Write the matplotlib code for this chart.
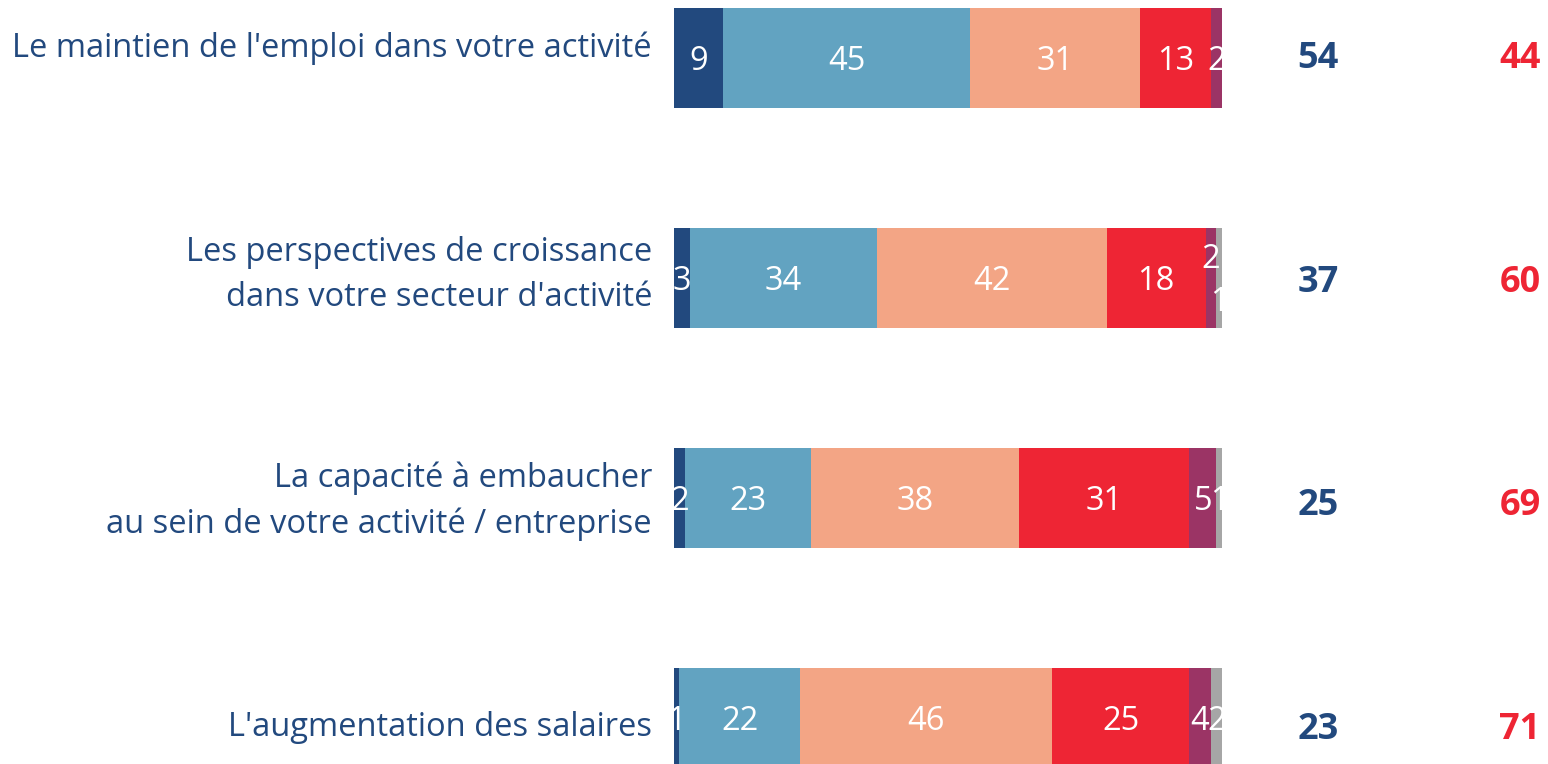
import numpy as np
import matplotlib.pyplot as plt

# survey items (top to bottom)
labels = ["Le maintien de l'emploi dans votre activité",
          "Les perspectives de croissance\ndans votre secteur d'activité",
          "La capacité à embaucher\nau sein de votre activité / entreprise",
          "L'augmentation des salaires"]

# stacked shares, one list per answer category
tres_bon = [9, 3, 2, 1]
plutot_bon = [45, 34, 23, 22]
plutot_mauvais = [31, 42, 38, 46]
tres_mauvais = [13, 18, 31, 25]
nsp = [2, 2, 5, 4]
nr = [0, 1, 1, 2]

total_bon = [54, 37, 25, 23]
total_mauvais = [44, 60, 69, 71]

colors = ['#22497E', '#62A3C1', '#F3A585', '#EE2534', '#9B3465', '#A6A6A6']
navy = '#22497E'
red = '#EE2534'

plt.rcParams['font.family'] = ['Open Sans', 'DejaVu Sans']

fig = plt.figure(figsize=(15.48, 7.64), dpi=100)
ax = fig.add_axes([0, 0, 1, 1])

series = [tres_bon, plutot_bon, plutot_mauvais, tres_mauvais, nsp, nr]
y = np.arange(len(labels))
left = np.zeros(len(labels))
for k, (vals, c) in enumerate(zip(series, colors)):
    vals = np.array(vals, dtype=float)
    ax.barh(y, vals, left=left, height=0.455, color=c, edgecolor='none')
    for i, v in enumerate(vals):
        if v <= 0:
            continue
        cx = left[i] + v / 2
        cy = y[i] + 0.015
        # the two tiny labels of row 2 are stacked
        if i == 1 and k == 4:
            cy = y[i] - 0.085
        elif i == 1 and k == 5:
            cy = y[i] + 0.11
        ax.text(cx, cy, '%d' % v, ha='center', va='center',
                color='white', fontsize=23.5)
    left += vals

for i, lab in enumerate(labels):
    off = (i - 1.5) * 0.03
    ax.text(-4, y[i] + off, lab, ha='right', va='center', color=navy,
            fontsize=23.5, linespacing=1.5)
    toff = 0.005 + i * 0.0163
    ax.text(117.5, y[i] + toff, str(total_bon[i]), ha='center', va='center',
            color=navy, fontsize=26, fontweight='bold')
    ax.text(154.4, y[i] + toff, str(total_mauvais[i]), ha='center', va='center',
            color=red, fontsize=26, fontweight='bold')

ax.set_xlim(-123.0, 159.5)
ax.set_ylim(3.209, -0.264)
ax.axis('off')

fig.savefig('out.png', dpi=100)
